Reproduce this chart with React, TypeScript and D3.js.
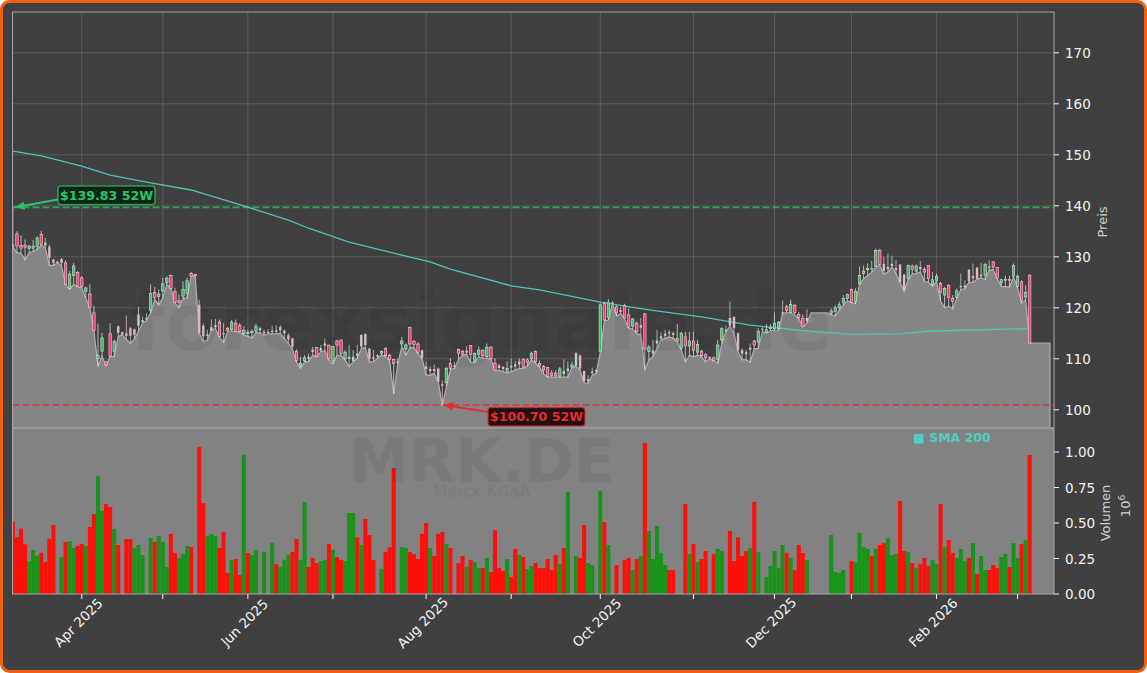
import { useEffect, useRef } from "react";
import * as d3 from "d3";

const WIDTH = 1147;
const HEIGHT = 673;

// one row per trading day
const opens = [
  132.4,134.5,132.2,132.3,131.6,131.7,132,134.4,132.8,132,129.5,129.1,129.6,128.8,123.8,126.3,126.9,125.9,123.2,122.7,
  119,110,111.5,109.4,114.9,111.5,116.4,115.2,115,116,115.8,116.5,117.2,117.7,119.5,123,122.2,123.3,125,126.3,
  123.2,121.4,122.3,122.8,126.7,126.5,120.6,116.5,114.5,115.5,116.2,117.2,114.8,116,115.7,117,116.6,114.9,115.2,115.1,
  115.4,116,115,115.3,115.5,115.3,116.2,115.5,114.6,114,111.5,108.6,109.6,110,111.3,112.2,111.6,112.6,112.7,109.6,
  113.5,113.7,110,110,109.6,110.6,112.4,114.9,112,110.3,110.4,111.1,112,110.7,109.9,109.2,112.9,111.9,116.1,113.4,
  112.9,111.7,108.5,108,108,108.1,105,105.3,109.1,108.7,111.8,111.5,111.6,112.6,109.4,110.9,111.7,110.4,112.2,109.1,
  108.7,108.4,107.6,108.3,108.5,108.9,109.9,109.8,110,111.4,109.1,108.5,108.3,107.2,107.2,106.6,107,107.6,108.4,108.6,
  110.6,107.6,106,107.2,107.5,111.4,120.9,118.1,121,120.2,119.6,120.4,118.6,116.4,117,116.6,118.8,111.4,111,113,
  114,114.5,115,114.7,114,112.1,114.3,112.5,113.5,111.3,111.5,110.8,110.4,110.2,109.9,113.7,115.4,118,118.2,115,
  111.7,110.9,111.8,113.5,113.3,115.9,115.1,115.9,115.9,116,119.1,120.2,119.1,120.5,118.7,117.9,117.4,119,119,119,
  119,119,118.9,119.3,120,121,121.8,123.6,121.2,124.7,126.7,127.5,127.6,128.1,131.2,128.6,127.6,128.2,127.8,128.5,
  126.5,125.7,128.2,127.2,127.6,127.5,128.3,124.6,125.4,124.8,122.5,124.4,121.8,122,124,124,127.5,125.8,127.9,126.2,
  126.4,127.8,129,127.9,124.9,125.6,125.6,126.2,124.2,125.1,122.1,126.4,
];
const closes = [
  132,132.1,131.7,131.9,132,132.1,133.7,132.4,132.2,129.8,128.8,128.9,128.8,124.6,126.6,128.2,124.2,124.2,123.9,120.1,
  115.6,110.7,114.1,108.8,110.5,113.4,115.1,114.8,114.5,114.5,114.7,118.7,117.6,118,122.8,122,122.7,124.7,125.8,123.8,
  121.1,121,123.6,125.3,126.2,126.3,115,114.4,114.8,116.2,116.6,114.4,115,115.6,117.2,115.4,115.3,115.6,115,115.4,
  116.4,115.6,115.3,115.1,115.2,115.6,115.6,115,113.8,112.4,109.6,109.1,110.2,110.4,111.8,110.4,112.1,113,110,112.4,
  112.7,111,111.3,110.4,110.4,111,114.7,112.7,110,110,110.7,111.4,110.6,109.9,109.1,109.5,113.5,112.7,112.9,112.8,
  111.3,110.2,108,107.6,107.6,105.5,104.7,108.1,108.1,108.4,111.1,110.9,111.2,110.9,111.1,111.7,110.6,112.2,110,107.8,
  108.2,108,108.1,108.6,108.9,109.5,108.3,109.3,111.1,109.4,108.6,107.8,106.6,106.7,106.7,108,107.6,108.1,108.8,111.1,
  108.1,105.6,105.6,107.5,107.8,120.6,117.6,121,120.9,119,119.2,118,116.2,117.8,115.3,116.1,111.9,112.3,111.6,113.6,
  114.4,114.9,115.2,115,113.5,115,112.5,113.5,111.7,112.8,110.6,110.2,110.1,109.6,112.7,115.9,115.7,116.5,116,111.7,
  111,111.3,112.2,112.7,115.4,115.7,115.7,116.2,117,117.2,118.9,119.5,120.7,119.1,118.1,116.3,118,119,119,119,
  119,119,119.4,120,120.6,121.8,122.6,121.1,123.2,126.3,127.2,127.7,127.8,131.2,128.5,127.2,128,128.6,127.4,125,
  123.3,128.3,127.5,128.2,128,127,125.7,125.5,126.2,123,123.8,122,121.3,123.3,124.3,124.4,125.2,126.2,125.7,126.5,
  128.5,128.1,128,125.8,125.5,125.4,125.4,128.3,126.2,121.5,123,113.1,
];
const highs = [
  139.8,135,134.2,133.4,132.4,133.3,134,135.1,133.7,132.4,129.6,129.2,129.7,129.3,127.2,128.8,127.2,126.2,124.1,124.6,
  120.4,116.9,115.1,109.5,117,113.8,116.5,115.3,118.5,116.2,115.9,120.2,118.3,118.9,124.6,124.1,123.6,125.9,126.2,126.5,
  123.9,122.6,125.2,125.9,127,126.6,121.6,117,115.7,117.7,117.8,117.7,117,116.2,117.6,117.7,117,116.4,115.7,115.8,
  116.9,116.3,115.7,115.8,116.5,116.6,116.6,115.8,115,114.1,111.9,110.4,110.7,111,112.4,112.3,112.7,114,112.7,112.5,
  113.7,113.7,111.7,112.7,111.7,112.7,114.7,114.9,112.1,111.7,110.9,111.6,112.3,111,109.9,110,114.3,113,116.3,113.7,
  113.2,111.8,109.4,108.5,108.9,108.3,105.8,108.4,110.1,109.4,112,111.7,112.5,112.6,111.2,112.4,111.8,113,112.5,110.1,
  109,108.6,109.5,110,109.6,110.1,110.1,110.1,111.4,111.6,109.7,108.8,108.4,107.8,107.8,108.4,109.9,109.5,109.5,111.3,
  110.9,107.7,106.8,108.3,107.9,120.9,121.2,121.7,121.3,120.5,120.2,120.8,119.9,118,117.3,118,119,112.7,113.7,115.7,
  115.2,115.7,115.7,115.3,116.8,115.3,115.3,115.3,115.3,113.7,111.8,111.1,110.4,110.4,113.7,116.2,116.5,121.2,118.4,115.2,
  112.1,111.8,113,113.7,116,116.2,116.8,116.8,119.1,117.4,121.4,120.6,121.6,120.7,119.2,118.7,119.7,119,119,119,
  119,119,119.9,120.5,121.2,122.5,122.8,123.8,123.8,128.1,128.3,128.7,129.2,131.6,131.6,130,130.6,130.2,129.4,128.5,
  126.6,128.5,128.5,128.5,129.2,128,128.4,127,126.7,125.1,124.1,124.6,122.5,123.8,126.7,125.4,127.5,128.7,127.9,128.8,
  128.8,129.3,129.2,128,125.7,126.3,126.3,128.7,126.5,125.4,124.4,126.5,
];
// the grey area follows these lows
const lows = [
  132,130.8,130.7,129.4,130.8,131.1,131.5,132.2,131.8,128.3,128.3,128.9,128.2,124.5,123.6,124.6,124.1,123.9,121.9,120,
  115.5,108.5,110.5,108.6,110.5,110.4,114.4,114.7,113.8,113,113.9,115.4,117,117.5,119,121.6,120.6,121.9,124.6,123.8,
  121,120,121.9,121.9,126.2,126.3,115,113.4,113.6,115.7,115.9,114.2,113.2,115.4,115.4,115.3,115.1,114.7,114.4,114.1,
  115.1,115.1,114.6,114.9,114.9,114.9,115,114,113,111.9,109.4,108.1,109.4,109.5,110.7,110.4,111.4,111.6,109.8,109,
  110.7,110.7,109.8,108.5,109.4,110.1,112,112.2,109.4,109.4,110.1,110.7,110.5,109.6,103.1,109,112.4,110.7,112.2,112.2,
  111,110.1,106.8,106.8,107.1,105.5,100.8,104.5,107.9,108.1,109.9,110.7,110.9,109.3,109.2,110.4,110.1,110.1,109.9,107.8,
  107.7,107.5,107.2,107.5,107.8,108.1,108.1,108.6,109.8,109.2,108.3,107.1,106.4,106.4,106.4,106.4,106.4,106.4,108.3,108.5,
  107.8,105.3,105.2,106.8,107.1,111.3,117.5,117.6,120.9,118.4,118.9,117.9,116,115.8,114.9,114.7,107.9,109.8,110.4,112,
  113.7,114,114.3,114,113.4,111.7,109.4,110.7,110.4,110.7,110.4,109.4,110,109.6,109.1,113,115.3,116.4,115,111.4,
  109.8,109.8,109.3,112,112,115.3,115.1,115.5,115.6,115.6,118.9,119,119,118.6,117.9,116.3,117,119,119,119,
  119,119,118.6,118.4,119.5,120.5,121.4,121,120.8,124.6,125.7,126.3,127,128,128.3,126.6,127,128,126.7,125,
  123.2,125.5,126.6,126.7,127,125.2,125,124.2,125.2,121.3,120,120.3,119.8,121.8,123.6,123.7,125,125,125.6,125.9,
  125.5,127.4,127.5,125.7,124.2,124.1,124.1,126,124,120.9,121.6,113.1,
];
// drawn washed out in the reference
const faintBars = [
  0,8,9,10,11,12,26,27,28,29,30,31,32,33,46,47,48,49,50,52,61,62,63,64,65,66,67,68,69,73,74,76,77,83,84,85,86,87,88,89,90,
  95,101,102,103,104,105,106,109,112,120,121,123,124,125,136,137,139,140,141,142,143,144,148,150,155,158,159,160,161,162,163,
  172,176,177,178,179,180,181,182,185,190,196,212,215,216,217,218,219,220,224,234,235,236,237,238,239,241,
];
// sign gives the bar colour: positive green, negative red, 0 no bar
const volumes = [
  -0.51,-0.4,-0.46,-0.35,0.23,0.31,0.27,-0.29,-0.225,-0.39,-0.486,0,0.26,-0.366,0.373,0.324,-0.338,-0.352,0.338,-0.472,
  -0.563,0.83,0.585,-0.634,-0.613,0.458,-0.345,0,-0.387,-0.387,0.324,0.345,0.275,0,0.394,-0.366,0.408,0.366,0.19,-0.423,
  -0.289,0.254,0.282,0.338,-0.331,0,-1.035,-0.64,0.408,0.42,0.408,-0.324,-0.437,-0.148,0.24,-0.246,-0.134,0.98,-0.289,0.275,
  0.31,0,0.296,0,0.36,-0.21,
  0.19,0.24,0.275,-0.296,-0.387,0.24,0.648,-0.19,-0.254,-0.218,0.232,0.24,-0.352,0.31,-0.26,-0.24,0.232,0.57,0.57,-0.4,
  0.345,-0.528,-0.415,-0.24,0,0.176,-0.296,-0.33,-0.887,0,0.33,0.324,-0.296,-0.282,-0.246,-0.423,-0.5,0.324,-0.268,-0.423,
  -0.437,0.352,-0.324,0,-0.218,-0.268,0.19,-0.24,0.225,0.183,-0.183,0.254,-0.155,-0.45,-0.183,-0.162,0.246,-0.12,-0.317,0.275,
  -0.26,0.176,0.197,-0.218,-0.183,-0.183,-0.246,-0.169,-0.275,0.21,
  -0.324,0.718,0,0.268,-0.254,-0.486,0.218,0.204,0,0.725,-0.507,0.345,0,-0.204,0,-0.24,-0.254,0.169,-0.246,0.268,
  -1.063,0.444,0.246,0.479,0.289,0.204,-0.169,-0.169,0,0,-0.634,0.282,-0.352,0.225,-0.246,-0.303,0,-0.282,0.317,0.303,
  0,-0.444,-0.232,-0.4,-0.268,-0.303,0.324,-0.648,0.296,0,0.12,0.197,0.303,0.183,0.345,-0.289,0.254,-0.169,-0.345,-0.289,
  0.24,0,0,0,0,0,0.415,0.155,0.148,0.169,0,-0.232,0.225,0.43,0.33,0.317,-0.268,0.317,-0.345,-0.359,
  0.394,0.275,0.282,-0.655,-0.303,0.296,-0.218,0.183,-0.211,-0.254,-0.197,0.239,0.211,-0.634,0.33,-0.38,-0.289,0.254,0.317,0.232,
  -0.254,0.359,-0.141,0.268,0.169,-0.169,-0.204,-0.183,0.26,0.282,-0.19,0.359,0.254,-0.352,0.38,-0.979,
];
const smaIndex = [0,7,17,24,34,44,57,68,73,83,93,103,108,123,130,145,157,170,182,194,207,219,226,234,251];
const smaValues = [
  150.7,149.8,147.8,146,144.5,143.1,140,137.2,135.6,132.9,130.9,129,127.6,124.3,123.5,121.1,119.6,118.2,116.6,115.6,
  114.8,114.9,115.4,115.6,115.9,
];
const monthTicks = [17,37,58,79,102,123,145,168,188,207,228,248];
const monthLabels: Record<number, string> = {
  17: "Apr 2025", 58: "Jun 2025", 102: "Aug 2025", 145: "Oct 2025", 188: "Dec 2025", 228: "Feb 2026",
};
const priceTicks = [100,110,120,130,140,150,160,170];
const volumeTicks = [0,0.25,0.5,0.75,1];
const lastAreaIndex = 256;
const high52 = 139.7;
const low52LineAt = 100.95;

export default function App() {
  const ref = useRef<SVGSVGElement | null>(null);

  useEffect(() => {
    const svg = d3.select(ref.current);
    svg.selectAll("*").remove();
    const font = "'DejaVu Sans', sans-serif";
    svg.attr("font-family", font);

    const left = 12.5;
    const right = 1054;
    const top = 12;
    const split = 428;
    const bottom = 594;

    const x = d3.scaleLinear().domain([-0.1, 257]).range([left, right]);
    const y = d3.scaleLinear().domain([100, 170]).range([409.8, 52.8]);
    const yv = d3.scaleLinear().domain([0, 1]).range([bottom, 452]);
    const step = x(1) - x(0);

    // figure + frame
    svg.append("rect").attr("x", 1.5).attr("y", 1.5).attr("width", WIDTH - 3).attr("height", HEIGHT - 3)
      .attr("rx", 8).attr("fill", "#404040").attr("stroke", "#f0600f").attr("stroke-width", 3);

    const defs = svg.append("defs");
    defs.append("clipPath").attr("id", "priceClip").append("rect")
      .attr("x", left).attr("y", top).attr("width", right - left).attr("height", split - top);
    defs.append("clipPath").attr("id", "volClip").append("rect")
      .attr("x", left).attr("y", split).attr("width", right - left).attr("height", bottom - split);

    // gridlines
    const grid = svg.append("g").attr("stroke", "#ffffff").attr("stroke-opacity", 0.14).attr("stroke-width", 1);
    priceTicks.forEach((t) => {
      grid.append("line").attr("x1", left).attr("x2", right).attr("y1", y(t)).attr("y2", y(t));
    });
    monthTicks.forEach((t) => {
      grid.append("line").attr("x1", x(t)).attr("x2", x(t)).attr("y1", top).attr("y2", split);
    });

    // price area, follows the lows then stays flat past the last bar
    const closeArea = lows.map((v, i) => [i, v] as [number, number]);
    closeArea.push([lastAreaIndex, lows[lows.length - 1]]);
    const gPrice = svg.append("g").attr("clip-path", "url(#priceClip)");
    const area = d3.area<[number, number]>().x((d) => x(d[0])).y0(split).y1((d) => y(d[1]));
    const line = d3.line<[number, number]>().x((d) => x(d[0])).y((d) => y(d[1]));
    gPrice.append("path").attr("d", area(closeArea)).attr("fill", "#858585");
    gPrice.append("path").attr("d", line([...closeArea, [lastAreaIndex, 90]])).attr("fill", "none")
      .attr("stroke", "#b0b0b0").attr("stroke-width", 1.2);

    // watermark over the area
    svg.append("text").attr("x", 481).attr("y", 350).attr("text-anchor", "middle")
      .attr("font-size", 80).attr("font-weight", 700).attr("fill", "#000").attr("opacity", 0.05)
      .text("forexsignale.de");

    // volume panel
    svg.append("rect").attr("x", left).attr("y", split).attr("width", right - left)
      .attr("height", bottom - split).attr("fill", "#828282");
    svg.append("g").attr("clip-path", "url(#volClip)").selectAll("rect")
      .data(volumes)
      .join("rect")
      .attr("x", (_, i) => x(i) - step / 2)
      .attr("width", step)
      .attr("y", (d) => yv(Math.abs(d)))
      .attr("height", (d) => bottom - yv(Math.abs(d)))
      .attr("fill", (d) => (d > 0 ? "#1a931a" : "#ff0f0a"));

    // faint title over the panels
    svg.append("text").attr("x", 482).attr("y", 482).attr("text-anchor", "middle")
      .attr("font-size", 60).attr("font-weight", 700).attr("fill", "#000").attr("opacity", 0.05)
      .text("MRK.DE");
    svg.append("text").attr("x", 482).attr("y", 497).attr("text-anchor", "middle")
      .attr("font-size", 16).attr("fill", "#000").attr("opacity", 0.05)
      .text("Merck KGaA");

    // 52 week levels
    svg.append("line").attr("x1", left).attr("x2", right).attr("y1", y(high52)).attr("y2", y(high52))
      .attr("stroke", "#2aa85a").attr("stroke-width", 1.6).attr("stroke-dasharray", "7 3");
    svg.append("line").attr("x1", left).attr("x2", right).attr("y1", y(low52LineAt)).attr("y2", y(low52LineAt))
      .attr("stroke", "#d23a3a").attr("stroke-width", 1.6).attr("stroke-dasharray", "7 3");

    // SMA
    const smaLine = d3.line<number>().x((_, i) => x(smaIndex[i])).y((d) => y(d));
    svg.append("path").attr("d", smaLine(smaValues)).attr("fill", "none")
      .attr("stroke", "#4fc4bc").attr("stroke-width", 1.3);

    // candles
    const gCandle = svg.append("g").attr("clip-path", "url(#priceClip)");
    opens.forEach((o, i) => {
      if (o === 119 && closes[i] === 119 && highs[i] === 119) return;
      const c = closes[i];
      const up = c >= o;
      const faint = faintBars.includes(i);
      const pale = up ? "#bcd2bc" : "#dcb8c6";
      gCandle.append("line").attr("x1", x(i)).attr("x2", x(i)).attr("y1", y(highs[i])).attr("y2", y(lows[i]))
        .attr("stroke", faint ? pale : "#d8d8d8").attr("stroke-width", 0.8);
      const yTop = y(Math.max(o, c));
      const h = Math.max(Math.abs(y(o) - y(c)), 1.2);
      gCandle.append("rect").attr("x", x(i) - 1.2).attr("width", 2.4).attr("y", yTop).attr("height", h)
        .attr("fill", faint ? pale : up ? "#43b765" : "#f03a6e")
        .attr("stroke", faint ? "none" : up ? "#cfe8d2" : "#f9cfdb")
        .attr("stroke-width", 0.6);
    });

    // spines
    svg.append("rect").attr("x", left).attr("y", top).attr("width", right - left).attr("height", bottom - top)
      .attr("fill", "none").attr("stroke", "#a6a6a6").attr("stroke-width", 1);
    svg.append("line").attr("x1", left).attr("x2", right).attr("y1", split).attr("y2", split)
      .attr("stroke", "#999999").attr("stroke-width", 2);

    // axes
    const axisColor = "#f2f2f2";
    priceTicks.forEach((t) => {
      svg.append("line").attr("x1", right).attr("x2", right + 5).attr("y1", y(t)).attr("y2", y(t)).attr("stroke", axisColor);
      svg.append("text").attr("x", right + 11).attr("y", y(t) + 5).attr("font-size", 13.5).attr("fill", axisColor).text(t);
    });
    volumeTicks.forEach((t) => {
      svg.append("line").attr("x1", right).attr("x2", right + 5).attr("y1", yv(t)).attr("y2", yv(t)).attr("stroke", axisColor);
      svg.append("text").attr("x", right + 11).attr("y", yv(t) + 5).attr("font-size", 13.5).attr("fill", axisColor).text(t.toFixed(2));
    });
    monthTicks.forEach((t) => {
      svg.append("line").attr("x1", x(t)).attr("x2", x(t)).attr("y1", bottom).attr("y2", bottom + 5).attr("stroke", axisColor);
      if (monthLabels[t]) {
        svg.append("text").attr("text-anchor", "middle")
          .attr("transform", `translate(${x(t)},${bottom + 32}) rotate(-45)`)
          .attr("font-size", 13.5).attr("fill", axisColor).text(monthLabels[t]);
      }
    });
    const rotated = (px: number, py: number, size: number, color: string) =>
      svg.append("text").attr("text-anchor", "middle").attr("transform", `translate(${px},${py}) rotate(-90)`)
        .attr("font-size", size).attr("fill", color);
    rotated(1107, 222, 13, "#cfcfcf").text("Preis");
    rotated(1110, 513, 13, "#cfcfcf").text("Volumen");
    const exp = rotated(1130, 506, 13, "#cfcfcf");
    exp.append("tspan").text("10");
    exp.append("tspan").attr("dy", -5).attr("font-size", 9).text("6");

    // legend
    svg.append("text").attr("x", 913).attr("y", 442).attr("font-size", 12.5).attr("font-weight", 700)
      .attr("fill", "#4ecdc4").text("■ SMA 200");

    // 52 week callouts
    const callout = (
      bx: number, by: number, tipIndex: number, tipValue: number, fromX: number, fromY: number,
      label: string, color: string, bg: string,
    ) => {
      const tx = x(tipIndex);
      const ty = y(tipValue);
      const ang = Math.atan2(fromY - ty, fromX - tx);
      const g = svg.append("g");
      g.append("line").attr("x1", fromX).attr("y1", fromY).attr("x2", tx).attr("y2", ty)
        .attr("stroke", color).attr("stroke-width", 2);
      const a = 0.42;
      const len = 10;
      g.append("path")
        .attr("d", `M${tx},${ty}L${tx + len * Math.cos(ang - a)},${ty + len * Math.sin(ang - a)}L${tx + len * Math.cos(ang + a)},${ty + len * Math.sin(ang + a)}Z`)
        .attr("fill", color);
      g.append("rect").attr("x", bx).attr("y", by).attr("width", 97).attr("height", 18.5).attr("rx", 3)
        .attr("fill", bg).attr("stroke", color).attr("stroke-opacity", 0.7).attr("stroke-width", 1.6);
      g.append("text").attr("x", bx + 48.5).attr("y", by + 13.5).attr("text-anchor", "middle")
        .attr("font-size", 12.6).attr("font-weight", 700).attr("fill", color).text(label);
    };
    callout(58, 186, 0.6, high52, 58, 199.5, "$139.83 52W", "#2cc468", "#0b2416");
    callout(488, 407.5, 106.4, low52LineAt, 488, 412, "$100.70 52W", "#e82c2c", "#201012");
  }, []);

  return (
    <svg
      ref={ref}
      width={WIDTH}
      height={HEIGHT}
      style={{ position: "absolute", left: 0, top: 0, display: "block" }}
    />
  );
}
